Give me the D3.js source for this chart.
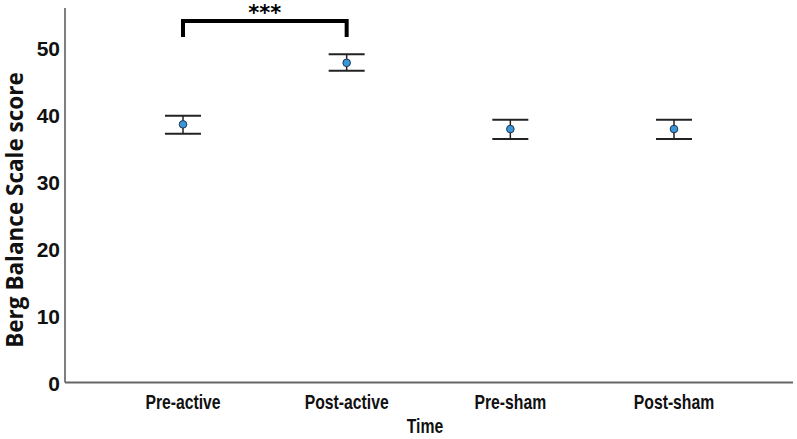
<!DOCTYPE html>
<html>
<head>
<meta charset="utf-8">
<script src="https://cdn.jsdelivr.net/npm/d3@7"></script>
<style>
  body { margin: 0; background: #fff; }
  svg { display: block; }
</style>
</head>
<body>
<div id="chart"></div>
<script>
// Berg Balance Scale score by time point (mean with error bars)
const categories = ['Pre-active', 'Post-active', 'Pre-sham', 'Post-sham'];
const means = [38.6, 47.8, 37.9, 37.9];
const upper = [39.9, 49.1, 39.3, 39.3];
const lower = [37.2, 46.6, 36.4, 36.4];
const yTicks = [0, 10, 20, 30, 40, 50];
const sigPair = ['Pre-active', 'Post-active'];
const sigLabel = '***';

const W = 797, H = 439;
const plotL = 65, plotR = 793, plotT = 8, plotB = 382.5;

const svg = d3.select('#chart').append('svg')
  .attr('width', W)
  .attr('height', H);

const x = d3.scalePoint()
  .domain(categories)
  .range([plotL + 118, plotR - 119]);

const y = d3.scaleLinear()
  .domain([0, 56])
  .range([plotB, plotT]);

const tickFont = '"Liberation Sans", Arial, sans-serif';

// Axes (lines only, no tick marks)
svg.append('line')
  .attr('x1', plotL).attr('x2', plotL)
  .attr('y1', plotT).attr('y2', plotB)
  .attr('stroke', '#555').attr('stroke-width', 1.5);
svg.append('line')
  .attr('x1', plotL).attr('x2', plotR)
  .attr('y1', plotB).attr('y2', plotB)
  .attr('stroke', '#666').attr('stroke-width', 2);

svg.selectAll('.ytick')
  .data(yTicks)
  .enter().append('text')
  .attr('class', 'ytick')
  .attr('x', 60)
  .attr('y', d => y(d) + 8)
  .attr('text-anchor', 'end')
  .attr('font-family', tickFont)
  .attr('font-weight', 'bold')
  .attr('font-size', 21)
  .attr('fill', '#111')
  .text(d => d);

// condensed category labels
svg.selectAll('.xtick')
  .data(categories)
  .enter().append('text')
  .attr('class', 'xtick')
  .attr('transform', d => `translate(${x(d)},409) scale(0.75,1)`)
  .attr('text-anchor', 'middle')
  .attr('font-family', tickFont)
  .attr('font-weight', 'bold')
  .attr('font-size', 21)
  .attr('fill', '#111')
  .text(d => d);

svg.append('text')
  .attr('transform', 'translate(425,433) scale(0.75,1)')
  .attr('text-anchor', 'middle')
  .attr('font-family', tickFont)
  .attr('font-weight', 'bold')
  .attr('font-size', 21)
  .attr('fill', '#111')
  .text('Time');

svg.append('text')
  .attr('transform', 'translate(23,210) rotate(-90)')
  .attr('text-anchor', 'middle')
  .attr('font-family', '"Open Sans", "Noto Sans", sans-serif')
  .attr('font-weight', 'bold')
  .attr('font-size', 22.5)
  .attr('fill', '#111')
  .text('Berg Balance Scale score');

// Error bars
const rows = categories.map((c, i) => ({ c, m: means[i], hi: upper[i], lo: lower[i] }));
const capW = 18;

const g = svg.append('g');
g.selectAll('.stem')
  .data(rows)
  .enter().append('line')
  .attr('x1', d => x(d.c)).attr('x2', d => x(d.c))
  .attr('y1', d => y(d.hi)).attr('y2', d => y(d.lo))
  .attr('stroke', '#222').attr('stroke-width', 1.5);

g.selectAll('.capTop')
  .data(rows)
  .enter().append('line')
  .attr('x1', d => x(d.c) - capW).attr('x2', d => x(d.c) + capW)
  .attr('y1', d => y(d.hi)).attr('y2', d => y(d.hi))
  .attr('stroke', '#222').attr('stroke-width', 2);

g.selectAll('.capBot')
  .data(rows)
  .enter().append('line')
  .attr('x1', d => x(d.c) - capW).attr('x2', d => x(d.c) + capW)
  .attr('y1', d => y(d.lo)).attr('y2', d => y(d.lo))
  .attr('stroke', '#222').attr('stroke-width', 2);

g.selectAll('.pt')
  .data(rows)
  .enter().append('circle')
  .attr('cx', d => x(d.c))
  .attr('cy', d => y(d.m))
  .attr('r', 3.8)
  .attr('fill', '#3a96db')
  .attr('stroke', '#1d3550')
  .attr('stroke-width', 1);

// Significance bracket
const bx1 = x(sigPair[0]), bx2 = x(sigPair[1]);
const by = 21, legEnd = 37;
svg.append('path')
  .attr('d', `M${bx1},${legEnd} V${by} H${bx2} V${legEnd}`)
  .attr('fill', 'none')
  .attr('stroke', '#000')
  .attr('stroke-width', 4);

svg.append('text')
  .attr('x', (bx1 + bx2) / 2)
  .attr('y', 20)
  .attr('text-anchor', 'middle')
  .attr('font-family', '"DejaVu Sans", sans-serif')
  .attr('font-weight', 'bold')
  .attr('font-size', 21)
  .attr('fill', '#000')
  .text(sigLabel);
</script>
</body>
</html>
